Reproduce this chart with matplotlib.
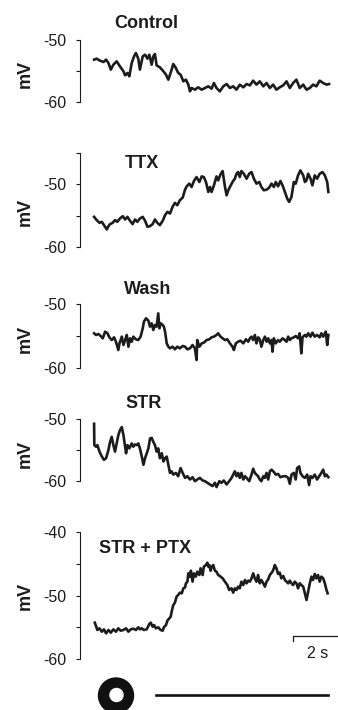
import numpy as np
import matplotlib
matplotlib.use('Agg')
import matplotlib.pyplot as plt
from matplotlib.patches import Circle

plt.rcParams['font.family'] = ['Liberation Sans', 'DejaVu Sans']

# conditions, one trace each (time in s, membrane potential in mV)
titles = ['Control', 'TTX', 'Wash', 'STR', 'STR + PTX']

t_control = [0.00, 0.11, 0.25, 0.40, 0.51, 0.61, 0.71, 0.82, 0.96, 1.10,
             1.25, 1.32, 1.42, 1.50, 1.60, 1.70, 1.78, 1.88, 1.95, 2.07,
             2.17, 2.27, 2.35, 2.45, 2.52, 2.59, 2.66, 2.80, 2.95, 3.06,
             3.16, 3.23, 3.30, 3.37, 3.48, 3.58, 3.68, 3.80, 3.91, 4.01,
             4.08, 4.15, 4.29, 4.43, 4.58, 4.72, 4.86, 5.00, 5.10, 5.21,
             5.35, 5.50, 5.64, 5.78, 5.92, 6.06, 6.20, 6.35, 6.49, 6.63,
             6.77, 6.91, 7.05, 7.20, 7.34, 7.48, 7.62, 7.76, 7.90, 8.05,
             8.19, 8.33, 8.47, 8.61, 8.75, 8.90, 9.04, 9.18, 9.32, 9.46,
             9.60, 9.75, 9.89, 10.00]
v_control = [-53.17, -53.01, -53.33, -53.55, -53.17, -53.71, -54.78, -53.98, -53.44, -54.25,
             -55.05, -55.70, -55.32, -55.86, -53.71, -52.63, -52.10, -53.01, -54.78, -52.63,
             -52.37, -53.01, -52.37, -53.98, -52.63, -52.26, -54.09, -54.41, -55.05, -55.59,
             -56.40, -55.59, -54.78, -53.87, -54.52, -55.32, -55.59, -56.67, -56.40, -57.20,
             -58.28, -57.74, -58.01, -57.63, -58.01, -57.74, -57.47, -57.85, -56.94, -57.74,
             -58.28, -57.47, -57.10, -57.74, -57.47, -58.01, -57.20, -57.63, -57.10, -57.31,
             -56.56, -57.20, -56.67, -57.47, -56.94, -57.74, -57.20, -58.01, -57.63, -57.31,
             -56.67, -57.74, -56.94, -56.40, -57.74, -57.20, -58.01, -57.74, -57.20, -57.47,
             -56.56, -56.94, -57.20, -57.10]

t_ttx = [0.00, 0.11, 0.23, 0.33, 0.42, 0.54, 0.61, 0.68, 0.79, 0.89,
         0.99, 1.10, 1.22, 1.32, 1.42, 1.53, 1.64, 1.74, 1.84, 1.95,
         2.07, 2.17, 2.27, 2.38, 2.49, 2.59, 2.69, 2.80, 2.92, 3.02,
         3.12, 3.23, 3.34, 3.44, 3.54, 3.65, 3.77, 3.87, 3.94, 4.05,
         4.15, 4.25, 4.36, 4.48, 4.58, 4.67, 4.76, 4.86, 4.93, 5.00,
         5.10, 5.21, 5.28, 5.38, 5.47, 5.57, 5.64, 5.71, 5.78, 5.89,
         5.99, 6.06, 6.13, 6.20, 6.27, 6.37, 6.49, 6.60, 6.70, 6.80,
         6.91, 7.03, 7.12, 7.22, 7.34, 7.45, 7.55, 7.65, 7.73, 7.83,
         7.93, 8.02, 8.12, 8.22, 8.30, 8.40, 8.50, 8.58, 8.68, 8.78,
         8.90, 8.97, 9.04, 9.11, 9.21, 9.29, 9.39, 9.49, 9.60, 9.72,
         9.82, 9.92, 9.97]
v_ttx = [-55.19, -55.71, -56.14, -55.98, -56.51, -57.20, -56.67, -56.35, -56.14, -55.71,
         -55.98, -55.45, -55.08, -55.61, -55.19, -55.82, -56.35, -55.61, -55.98, -55.45,
         -55.19, -55.82, -56.77, -56.67, -56.35, -55.61, -56.14, -56.51, -55.82, -54.92,
         -54.39, -54.66, -53.60, -52.96, -53.33, -52.54, -52.12, -50.85, -50.32, -49.89,
         -50.42, -49.47, -48.84, -49.63, -48.73, -48.84, -49.63, -51.22, -50.42, -51.22,
         -50.16, -48.73, -49.37, -48.41, -47.88, -50.42, -51.75, -50.95, -50.42, -49.63,
         -49.10, -48.31, -48.04, -48.84, -47.88, -48.31, -49.10, -48.31, -48.04, -49.10,
         -49.89, -49.63, -50.42, -50.95, -50.85, -50.53, -49.89, -50.42, -49.63, -50.32,
         -49.47, -50.16, -51.22, -52.28, -52.80, -52.01, -49.63, -49.89, -48.57, -47.78,
         -48.57, -49.63, -49.37, -48.31, -49.10, -50.16, -48.57, -49.10, -48.31, -48.04,
         -48.57, -49.63, -51.22]

t_wash = [0.00, 0.08, 0.18, 0.28, 0.37, 0.47, 0.57, 0.65, 0.75, 0.85,
          0.93, 1.03, 1.08, 1.18, 1.25, 1.32, 1.39, 1.46, 1.53, 1.60,
          1.67, 1.78, 1.88, 1.98, 2.07, 2.12, 2.21, 2.31, 2.38, 2.45,
          2.52, 2.59, 2.66, 2.73, 2.78, 2.83, 2.92, 2.97, 3.02, 3.09,
          3.16, 3.23, 3.34, 3.44, 3.54, 3.65, 3.77, 3.87, 3.97, 4.08,
          4.19, 4.29, 4.36, 4.39, 4.48, 4.58, 4.67, 4.79, 4.90, 5.00,
          5.10, 5.21, 5.28, 5.38, 5.47, 5.57, 5.67, 5.78, 5.89, 5.95,
          6.03, 6.13, 6.23, 6.35, 6.46, 6.56, 6.63, 6.70, 6.77, 6.84,
          6.91, 6.98, 7.05, 7.12, 7.20, 7.27, 7.34, 7.41, 7.48, 7.55,
          7.59, 7.65, 7.73, 7.83, 7.90, 8.02, 8.12, 8.19, 8.26, 8.33,
          8.40, 8.50, 8.58, 8.68, 8.75, 8.82, 8.87, 8.97, 9.04, 9.11,
          9.21, 9.29, 9.39, 9.49, 9.60, 9.67, 9.75, 9.82, 9.86, 9.92,
          9.97]
v_wash = [-54.58, -54.84, -54.69, -55.00, -55.36, -54.32, -54.58, -55.21, -55.63, -55.21,
          -55.89, -57.19, -56.15, -55.10, -56.41, -55.63, -54.84, -56.67, -55.36, -55.89,
          -55.10, -55.52, -55.63, -55.10, -53.80, -52.76, -52.24, -52.60, -53.54, -53.02,
          -54.06, -53.28, -53.54, -51.46, -53.80, -53.02, -53.28, -53.54, -54.32, -56.15,
          -56.67, -56.93, -56.67, -57.08, -56.67, -56.93, -56.56, -56.67, -57.08, -56.93,
          -56.41, -56.93, -58.75, -55.63, -56.67, -56.15, -56.04, -55.63, -55.52, -55.21,
          -55.10, -54.84, -54.58, -55.10, -55.36, -55.63, -55.52, -56.15, -56.67, -57.19,
          -56.15, -55.89, -55.73, -56.15, -55.52, -55.89, -55.36, -55.10, -55.63, -54.84,
          -56.15, -55.21, -55.52, -56.67, -55.63, -55.10, -55.89, -55.36, -56.15, -55.63,
          -57.45, -55.36, -56.15, -55.63, -55.89, -55.36, -55.63, -55.89, -55.10, -55.63,
          -55.36, -55.21, -55.00, -55.36, -54.58, -57.71, -55.21, -54.84, -55.10, -54.58,
          -55.10, -54.48, -55.10, -54.84, -55.21, -54.58, -55.10, -54.58, -54.32, -56.41,
          -54.84]

t_str = [0.00, 0.01, 0.08, 0.14, 0.23, 0.33, 0.42, 0.51, 0.61, 0.68,
         0.75, 0.82, 0.89, 0.96, 1.03, 1.10, 1.18, 1.25, 1.32, 1.36,
         1.42, 1.50, 1.60, 1.67, 1.74, 1.81, 1.88, 1.95, 2.03, 2.10,
         2.17, 2.24, 2.31, 2.38, 2.45, 2.52, 2.59, 2.66, 2.73, 2.80,
         2.88, 2.95, 3.02, 3.09, 3.16, 3.23, 3.30, 3.37, 3.48, 3.58,
         3.68, 3.77, 3.87, 3.97, 4.08, 4.19, 4.29, 4.39, 4.50, 4.62,
         4.72, 4.82, 4.93, 5.04, 5.14, 5.21, 5.33, 5.42, 5.52, 5.64,
         5.75, 5.85, 5.92, 5.99, 6.06, 6.13, 6.20, 6.27, 6.35, 6.42,
         6.49, 6.60, 6.70, 6.77, 6.84, 6.91, 6.98, 7.05, 7.12, 7.20,
         7.27, 7.34, 7.41, 7.48, 7.55, 7.65, 7.73, 7.83, 7.93, 8.05,
         8.16, 8.26, 8.33, 8.40, 8.50, 8.58, 8.64, 8.73, 8.78, 8.87,
         8.97, 9.07, 9.15, 9.21, 9.29, 9.39, 9.49, 9.58, 9.67, 9.75,
         9.82, 9.89, 9.97]
v_str = [-50.77, -54.21, -54.47, -54.21, -55.26, -56.06, -56.59, -56.32, -55.00, -53.68,
         -52.88, -54.21, -55.26, -53.94, -52.62, -51.83, -51.30, -52.62, -54.47, -55.53,
         -54.21, -54.74, -53.94, -54.47, -54.10, -54.21, -53.94, -54.74, -56.06, -57.38,
         -56.32, -55.53, -54.74, -53.15, -53.04, -53.68, -54.21, -55.26, -54.74, -56.32,
         -55.53, -56.85, -56.32, -56.06, -57.38, -58.70, -58.44, -58.97, -58.70, -59.23,
         -57.91, -58.70, -59.50, -59.23, -59.76, -59.39, -60.03, -59.76, -59.50, -59.92,
         -60.03, -60.29, -60.56, -60.82, -60.29, -60.98, -60.03, -60.29, -59.92, -60.56,
         -60.03, -59.50, -58.97, -58.44, -59.23, -58.70, -59.50, -58.70, -59.76, -59.23,
         -59.50, -60.03, -58.97, -58.02, -58.70, -58.97, -59.23, -59.76, -60.03, -59.23,
         -59.50, -58.70, -59.76, -58.44, -58.17, -58.54, -58.97, -58.86, -59.39, -59.23,
         -59.23, -59.50, -60.45, -58.97, -58.70, -59.76, -57.91, -57.65, -58.70, -59.23,
         -59.50, -58.97, -60.66, -59.23, -59.50, -58.97, -59.76, -59.23, -58.70, -58.17,
         -59.23, -58.97, -59.39]

t_ptx = [0.03, 0.08, 0.14, 0.23, 0.33, 0.42, 0.51, 0.61, 0.71, 0.82,
         0.93, 1.03, 1.13, 1.25, 1.36, 1.46, 1.56, 1.67, 1.78, 1.88,
         1.95, 2.03, 2.12, 2.24, 2.35, 2.41, 2.49, 2.55, 2.63, 2.73,
         2.83, 2.92, 2.97, 3.06, 3.12, 3.20, 3.26, 3.30, 3.37, 3.44,
         3.51, 3.58, 3.65, 3.73, 3.80, 3.87, 3.91, 3.97, 4.01, 4.08,
         4.12, 4.19, 4.25, 4.33, 4.39, 4.48, 4.53, 4.62, 4.67, 4.76,
         4.82, 4.86, 4.90, 4.96, 5.01, 5.07, 5.14, 5.21, 5.28, 5.35,
         5.47, 5.57, 5.67, 5.75, 5.85, 5.92, 5.99, 6.06, 6.13, 6.20,
         6.27, 6.35, 6.42, 6.49, 6.56, 6.63, 6.70, 6.77, 6.84, 6.91,
         6.98, 7.05, 7.12, 7.20, 7.27, 7.34, 7.41, 7.48, 7.59, 7.65,
         7.69, 7.76, 7.83, 7.90, 7.97, 8.05, 8.12, 8.19, 8.26, 8.33,
         8.40, 8.47, 8.54, 8.61, 8.68, 8.75, 8.82, 8.90, 8.97, 9.04,
         9.11, 9.18, 9.25, 9.32, 9.39, 9.46, 9.53, 9.60, 9.67, 9.75,
         9.82, 9.89, 9.94]
v_ptx = [-54.28, -54.80, -55.43, -55.17, -55.70, -55.33, -55.96, -55.43, -55.85, -55.33,
         -55.70, -55.17, -55.54, -55.43, -55.17, -55.70, -55.33, -55.22, -55.43, -55.01,
         -55.33, -55.17, -55.43, -55.33, -54.49, -54.28, -54.91, -54.65, -55.17, -55.01,
         -55.43, -55.54, -55.01, -54.65, -53.96, -53.60, -53.33, -52.55, -51.50, -51.13,
         -50.18, -49.92, -49.55, -49.66, -48.87, -48.71, -48.08, -47.82, -46.51, -47.03,
         -46.09, -47.82, -46.51, -47.03, -46.25, -46.77, -45.72, -46.77, -45.46, -45.20,
         -44.83, -45.46, -45.20, -46.09, -45.46, -45.20, -46.09, -46.25, -46.77, -46.93,
         -47.30, -47.82, -48.35, -49.13, -48.87, -49.55, -48.87, -49.13, -48.61, -48.87,
         -47.82, -48.35, -47.56, -48.08, -47.66, -47.82, -47.30, -46.51, -47.30, -47.82,
         -46.77, -48.08, -47.56, -48.08, -48.61, -47.82, -47.45, -46.77, -46.25, -45.72,
         -45.20, -45.72, -46.61, -46.40, -47.30, -46.93, -47.56, -47.82, -48.08, -47.66,
         -48.08, -48.35, -47.82, -48.08, -48.87, -48.08, -48.35, -48.61, -49.66, -50.71,
         -49.40, -48.08, -47.03, -47.56, -46.61, -47.30, -46.77, -47.82, -47.03, -47.30,
         -48.08, -49.13, -49.66]

times = [t_control, t_ttx, t_wash, t_str, t_ptx]
volts = [v_control, v_ttx, v_wash, v_str, v_ptx]

ylims = [(-60, -50), (-60, -45), (-60, -50), (-60, -50), (-60, -40)]

# layout, in pixels of the 338x710 figure
W, H = 338.0, 710.0
frames = [(40, 102), (153, 247), (304, 368), (419, 481), (532, 659)]  # top, bottom of y spine
left_px = 80
xlim = (-0.6, 10.38)
title_pos = [(2.21, -47.34), (2.04, -46.67), (2.30, -47.66), (2.11, -47.50), (2.17, -42.52)]
mv_y = [-55.4, -54.4, -55.5, -55.6, -50.0]

ink = '#1c1c1c'

fig = plt.figure(figsize=(W / 100, H / 100), dpi=100)

for i in range(5):
    top, bot = frames[i]
    ax = fig.add_axes([left_px / W, 1 - bot / H, 1 - left_px / W, (bot - top) / H])
    ax.plot(times[i], volts[i], color=ink, lw=1.9, clip_on=False)
    ax.set_xlim(*xlim)
    lo, hi = ylims[i]
    ax.set_ylim(lo, hi)
    ticks = np.arange(lo, hi + 1, 5)
    labels = ['%d' % v if v % 10 == 0 else '' for v in ticks]
    ax.set_yticks(ticks, labels)
    ax.tick_params(axis='y', direction='out', length=3, width=0.8,
                   pad=6.5, labelsize=11.5, color=ink, labelcolor=ink)
    ax.set_xticks([])
    for s in ['top', 'right', 'bottom']:
        ax.spines[s].set_visible(False)
    ax.spines['left'].set_linewidth(0.8)
    ax.spines['left'].set_color(ink)
    ax.patch.set_alpha(0)
    ax.text(title_pos[i][0], title_pos[i][1], titles[i], ha='center', va='center',
            fontsize=13, fontweight='bold', color=ink)
    ax.text(-0.213, mv_y[i], 'mV', rotation=90, ha='center', va='center',
            fontsize=13, fontweight='bold', color=ink,
            transform=ax.get_yaxis_transform())

# 2 s scale bar on the last panel
ax.plot([8.47, 8.47, 10.47], [-57.2, -56.4, -56.4], color=ink, lw=0.9, clip_on=False)
ax.text(9.51, -59.06, '2 s', ha='center', va='center', fontsize=11.5, color=ink)

# stimulus marker at the bottom
ov = fig.add_axes([0, 0, 1, 1])
ov.set_xlim(0, W)
ov.set_ylim(H, 0)
ov.axis('off')
ov.add_patch(Circle((116, 695.5), 17.5, color='#111111'))
ov.add_patch(Circle((116.5, 695), 6.5, color='white'))
ov.plot([156, 328], [694.5, 694.5], color='#111111', lw=1.9)

fig.savefig('out.png', dpi=100)
